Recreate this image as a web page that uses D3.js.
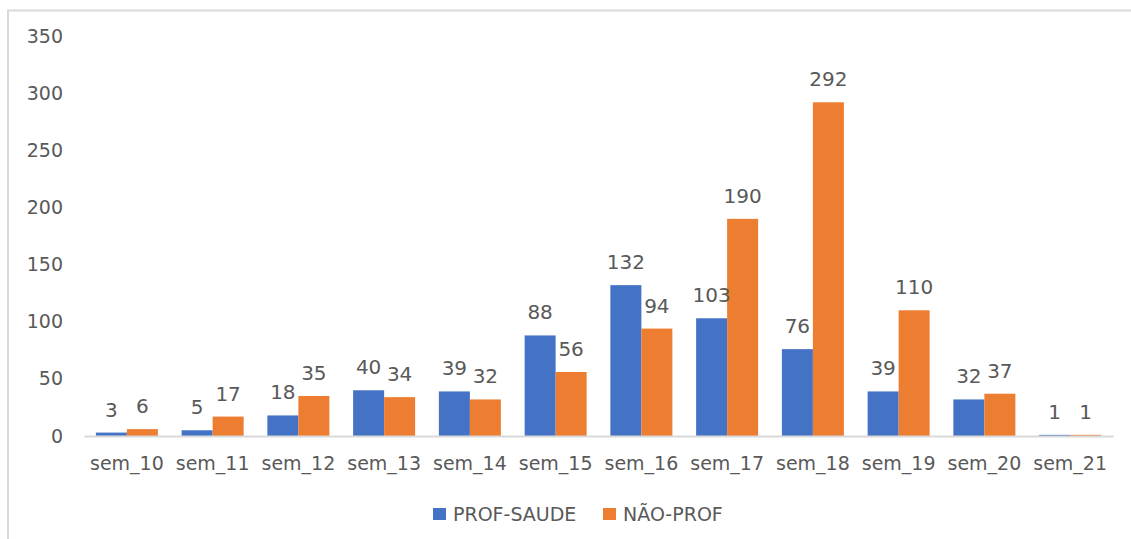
<!DOCTYPE html>
<html>
<head>
<meta charset="utf-8">
<script src="https://cdn.jsdelivr.net/npm/d3@7"></script>
<style>
  html, body { margin: 0; padding: 0; background: #fff; }
  svg { display: block; }
  text { font-family: "DejaVu Sans", sans-serif; fill: #595959; }
</style>
</head>
<body>
<svg id="chart" width="1131" height="539"></svg>
<script>
// Weekly counts by group
const categories = ["sem_10","sem_11","sem_12","sem_13","sem_14","sem_15","sem_16","sem_17","sem_18","sem_19","sem_20","sem_21"];
const seriesNames = ["PROF-SAUDE", "NÃO-PROF"];
const profSaude = [3, 5, 18, 40, 39, 88, 132, 103, 76, 39, 32, 1];
const naoProf   = [6, 17, 35, 34, 32, 56, 94, 190, 292, 110, 37, 1];
const yTicks = [0, 50, 100, 150, 200, 250, 300, 350];
const colors = ["#4472C4", "#ED7D31"];

const svg = d3.select("#chart");
const W = 1131, H = 539;

// chart frame
svg.append("rect")
  .attr("x", 8).attr("y", 10.5)
  .attr("width", W + 20).attr("height", H + 20)
  .attr("fill", "#fff")
  .attr("stroke", "#d9d9d9").attr("stroke-width", 2);

const plot = { left: 84, right: 1113, top: 36, bottom: 436 };

const x = d3.scaleBand()
  .domain(categories)
  .range([plot.left, plot.right])
  .paddingInner(0.277)
  .paddingOuter(0.1385);

const xs = d3.scaleBand()
  .domain(seriesNames)
  .range([0, x.bandwidth()]);

const y = d3.scaleLinear()
  .domain([0, 350])
  .range([plot.bottom, plot.top]);

// y axis labels (no line, no ticks)
const yAxis = svg.append("g")
  .attr("transform", `translate(${plot.left - 21},0)`)
  .call(d3.axisLeft(y).tickValues(yTicks).tickSize(0).tickPadding(0));
yAxis.select(".domain").remove();
yAxis.selectAll("text")
  .style("font-family", '"DejaVu Sans", sans-serif')
  .style("font-size", "19px")
  .attr("fill", "#595959");

const data = categories.map((c, i) => ({
  cat: c,
  values: [
    { name: seriesNames[0], v: profSaude[i], color: colors[0] },
    { name: seriesNames[1], v: naoProf[i], color: colors[1] }
  ]
}));

const groups = svg.append("g").selectAll("g")
  .data(data)
  .join("g")
  .attr("transform", d => `translate(${x(d.cat)},0)`);

groups.selectAll("rect")
  .data(d => d.values)
  .join("rect")
  .attr("x", d => xs(d.name))
  .attr("width", xs.bandwidth())
  .attr("y", d => y(d.v))
  .attr("height", d => y(0) - y(d.v))
  .attr("fill", d => d.color);

groups.selectAll("text")
  .data(d => d.values)
  .join("text")
  .attr("x", d => xs(d.name) + xs.bandwidth() / 2)
  .attr("y", d => y(d.v) - 16)
  .attr("text-anchor", "middle")
  .style("font-size", "20px")
  .text(d => d.v);

// x axis baseline and labels
const xAxis = svg.append("g")
  .attr("transform", `translate(0,${plot.bottom})`)
  .call(d3.axisBottom(x).tickSize(0).tickPadding(21));
xAxis.select(".domain")
  .attr("stroke", "#d9d9d9").attr("stroke-width", 2);
xAxis.selectAll("text")
  .style("font-family", '"DejaVu Sans", sans-serif')
  .style("font-size", "19px")
  .attr("fill", "#595959");

// legend
const legendItems = [
  { name: seriesNames[0], color: colors[0], x: 433 },
  { name: seriesNames[1], color: colors[1], x: 603 }
];
const legend = svg.append("g");
legendItems.forEach(it => {
  legend.append("rect")
    .attr("x", it.x).attr("y", 508)
    .attr("width", 13).attr("height", 12)
    .attr("fill", it.color);
  legend.append("text")
    .attr("x", it.x + 20).attr("y", 521)
    .style("font-size", "19px")
    .text(it.name);
});
</script>
</body>
</html>
